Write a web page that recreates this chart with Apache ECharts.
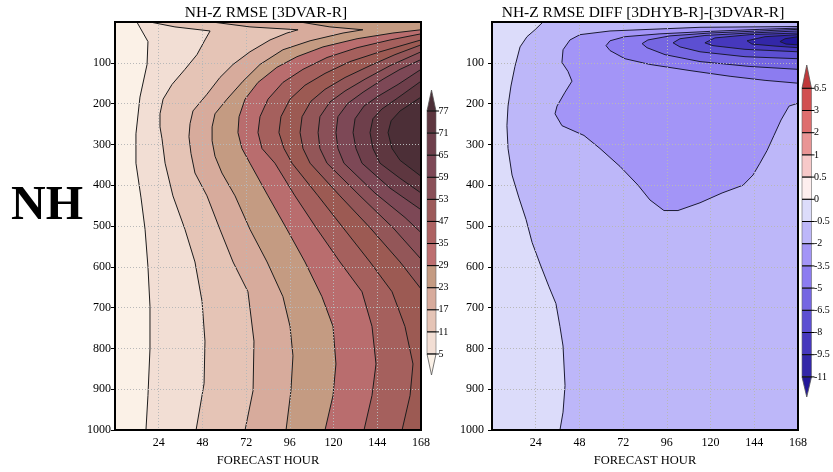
<!DOCTYPE html>
<html>
<head>
<meta charset="utf-8">
<script src="https://cdn.jsdelivr.net/npm/echarts/dist/echarts.min.js"></script>
<style>
  html, body { margin: 0; padding: 0; background: #fff; }
  #chart { width: 833px; height: 472px; }
</style>
</head>
<body>
<div id="chart"></div>
<script>
// Axis ticks
const hourTicks = [24, 48, 72, 96, 120, 144, 168];
const pressureTicks = [100, 200, 300, 400, 500, 600, 700, 800, 900, 1000];

// ---- NH-Z RMSE [3DVAR-R]: contour lines as [forecast hour, hPa] ----
const rmseLevels = [5, 11, 17, 23, 29, 35, 41, 47, 53, 59, 65, 71, 77];
const rmse05 = [[12,0],[18.1,48],[17.6,104],[13.7,184],[11.5,274],[11.5,346],[14.3,431],[16.5,508],[18.1,600],[19.2,697],[19.2,801],[18.1,915],[17.0,1000]];
const rmse11 = [[19.2,0],[32.9,12],[52.2,22],[49.4,44],[45.0,80],[38.4,116],[31.3,153],[26.4,189],[24.7,225],[24.7,257],[25.8,286],[27.5,346],[31.8,426],[38.4,508],[43.9,588],[47.8,685],[49.4,782],[48.9,886],[44.5,1000]];
const rmse17 = [[53.3,0],[74.1,12],[100.5,19],[94.4,27],[85.1,44],[74.1,73],[64.8,104],[57.6,136],[50.5,177],[42.8,218],[41.2,249],[40.6,281],[41.7,322],[43.9,370],[50.5,426],[57.6,508],[64.8,588],[73.0,661],[76.3,782],[75.8,903],[71.4,1000]];
const rmse23 = [[101.6,0],[118.0,12],[136.1,19],[125.2,27],[107.1,46],[92.2,68],[79.6,104],[70.3,145],[61.5,189],[54.9,225],[53.3,257],[53.3,291],[54.9,329],[58.7,370],[65.9,426],[74.1,508],[83.5,588],[92.2,673],[96.1,746],[97.7,818],[96.6,903],[93.9,1000]];
const rmse29 = [[168,19],[152.6,27],[132.9,41],[114.2,61],[99.9,85],[88.9,111],[78.5,148],[71.4,189],[68.1,232],[67.5,271],[69.7,310],[74.1,346],[84.0,426],[94.4,508],[104.3,588],[113.6,673],[119.7,746],[121.3,838],[119.7,915],[115.3,1000]];
const rmse35 = [[168,29],[151,44],[132.9,63],[116.4,87],[103.2,116],[92.2,148],[84.0,189],[79.6,232],[78.5,271],[80.7,310],[87.8,346],[98.8,426],[110.4,504],[123.5,588],[135.6,661],[141.1,746],[143.3,838],[141.1,915],[136.7,1000]];
const rmse41 = [[168,44],[145.5,73],[129.0,97],[115.3,126],[104.3,155],[96.1,189],[91.1,232],[90.0,271],[92.8,310],[97.2,346],[111.5,426],[125.2,504],[140,588],[152.1,661],[159.2,746],[163.6,838],[162.0,915],[157.6,1000]];
const rmse47 = [[168,56],[153.7,80],[140,107],[126.3,136],[115.3,165],[107.6,194],[102.7,232],[101.6,271],[103.2,310],[107.1,346],[123.5,426],[140,504],[156.5,588],[168,654]];
const rmse53 = [[168,73],[151,107],[137.3,140],[126.3,169],[118,196],[112.5,232],[111.5,271],[112.5,310],[116.4,346],[134.5,426],[152.6,504],[168,581]];
const rmse59 = [[168,92],[156.5,116],[147.2,140],[136.2,172],[127.9,199],[122.4,232],[121.3,271],[122.4,310],[125.7,346],[142.7,419],[159.2,479],[168,516]];
const rmse65 = [[168,116],[155.4,153],[144.4,182],[136.7,206],[131.8,237],[130.7,271],[132.3,310],[135.6,346],[151,407],[168,460]];
const rmse71 = [[168,145],[154.3,189],[146.6,213],[141.6,237],[140,271],[141.6,310],[145.5,346],[156.5,383],[168,419]];
const rmse77 = [[168,184],[156.5,218],[151.6,242],[149.9,271],[152.1,310],[156.5,339],[168,378]];
const rmseContours = [rmse05, rmse11, rmse17, rmse23, rmse29, rmse35, rmse41, rmse47, rmse53, rmse59, rmse65, rmse71, rmse77];
// band colours, lowest band first
const rmseFills = ['#fbf1e7','#f2ded4','#e5c4b6','#d7ab9c','#c49b82','#b96d6e','#a5605d','#9c5a53','#935658','#8a5058','#7d4856','#6e3f4b','#5e3740','#4c2f37'];
const rmseBarLabels = ['77','71','65','59','53','47','35','29','23','17','11','5'];
const rmseBarColors = ['#4c2f37','#5e3740','#6e3f4b','#7d4856','#8a5058','#9c5a5a','#ad6262','#bd6f70','#c49b82','#d7ab9c','#e5c4b6','#f2ded4','#fbf1e7'];

// ---- NH-Z RMSE DIFF [3DHYB-R]-[3DVAR-R]: contour lines as [forecast hour, hPa] ----
const diffLevels = [-0.5, -2, -3.5, -5, -6.5, -8, -9.5, -11];
const diffM05 = [[28.0,0],[23.6,19],[19.2,36],[15.4,61],[12.6,109],[10.4,157],[8.8,206],[8.2,254],[8.8,310],[11.0,375],[14.8,431],[18.7,484],[22.0,540],[26.4,593],[31.3,649],[35.1,690],[37.3,746],[39.0,794],[40.1,891],[39.0,956],[37.3,1000]];
const diffM20 = [[168,11],[114.2,13],[64.8,22],[48.3,31],[42.8,44],[39.0,68],[38.4,99],[41.7,121],[43.9,145],[40.1,172],[35.7,206],[34.6,225],[38.4,254],[50.5,278],[59.3,310],[70.3,354],[80.2,400],[86.7,436],[94.4,462],[102.1,462],[114.2,443],[126.3,419],[137.8,400],[143.3,375],[147.1,346],[151.0,315],[154.8,278],[158.7,240],[163.1,206],[168,199]];
const diffM35 = [[168,15],[147.1,18],[119.7,23],[92.2,29],[73.0,36],[64.8,46],[62.6,58],[64.8,70],[73.0,90],[86.7,104],[108.7,119],[130.7,133],[149.9,143],[168,150]];
const diffM50 = [[168,18],[147.1,22],[119.7,27],[97.7,34],[85.6,44],[82.4,53],[85.1,63],[95,80],[114.2,97],[141.6,109],[168,116]];
const diffM65 = [[168,22],[141.6,27],[116.9,33],[103.2,41],[99.4,51],[103.2,61],[114.2,73],[138.9,85],[168,90]];
const diffM80 = [[168,27],[141.6,31],[122.4,39],[116.9,51],[121.3,58],[138.9,67],[168,73]];
const diffM95 = [[168,31],[149.9,36],[140,46],[142.7,54],[155.4,59],[168,63]];
const diffM110 = [[168,36],[160.9,41],[158.1,48],[161.4,54],[168,56]];
const diffContours = [diffM05, diffM20, diffM35, diffM50, diffM65, diffM80, diffM95, diffM110];
const diffFills = ['#dcdcfa','#bdb7f9','#a395f7','#8c7cf0','#7566e2','#5c4fd2','#4638bd','#3327a8','#221799'];
const diffBarLabels = ['6.5','3','2','1','0.5','0','-0.5','-2','-3.5','-5','-6.5','-8','-9.5','-11'];
const diffBarColors = ['#c0393b','#d14f50','#de6e6e','#e99595','#f7c9c9','#fdeeee','#dcdcfa','#bdb7f9','#a395f7','#8c7cf0','#7566e2','#5c4fd2','#4638bd','#3327a8','#221799'];

const SERIF = '"Liberation Serif", "DejaVu Serif", serif';

// Filled contours: item 0 paints the lowest band over the whole plot,
// item i paints the region beyond contour i-1 and strokes that contour.
function contourRenderer(contours, fills, lineColor) {
  return function (params, api) {
    const i = params.dataIndex;
    if (i === 0) {
      const tl = api.coord([0, 0]);
      const br = api.coord([168, 1000]);
      return { type: 'rect', shape: { x: tl[0], y: tl[1], width: br[0] - tl[0], height: br[1] - tl[1] },
               style: { fill: fills[0] } };
    }
    const line = contours[i - 1];
    const pts = line.map(p => api.coord(p));
    const poly = pts.slice();
    if (line[line.length - 1][1] >= 1000) poly.push(api.coord([168, 1000]));
    if (line[0][1] <= 0) poly.push(api.coord([168, 0]));
    return {
      type: 'group',
      children: [
        { type: 'polygon', shape: { points: poly }, style: { fill: fills[i] } },
        { type: 'polyline', shape: { points: pts }, style: { stroke: lineColor, lineWidth: 1, fill: null } }
      ]
    };
  };
}

// Colour bar with pointed ends and labels on the band boundaries
function colorBar(x, w, yTop, step, tipTop, tipBottom, labels, colors) {
  const els = [];
  const yBot = yTop + step * (labels.length - 1);
  els.push({ type: 'polygon', shape: { points: [[x, yTop], [x + w, yTop], [x + w / 2, tipTop]] },
             style: { fill: colors[0], stroke: '#555', lineWidth: 0.8 } });
  for (let i = 0; i < labels.length - 1; i++) {
    els.push({ type: 'rect', shape: { x: x, y: yTop + i * step, width: w, height: step },
               style: { fill: colors[i + 1], stroke: '#666', lineWidth: 0.6 } });
  }
  els.push({ type: 'polygon', shape: { points: [[x, yBot], [x + w, yBot], [x + w / 2, tipBottom]] },
             style: { fill: colors[colors.length - 1], stroke: '#555', lineWidth: 0.8 } });
  labels.forEach((t, j) => {
    const y = yTop + j * step;
    els.push({ type: 'line', shape: { x1: x, y1: y, x2: x + w + 3, y2: y }, style: { stroke: '#000', lineWidth: 1 } });
    els.push({ type: 'text', x: x + w + 2.5, y: y,
               style: { text: t, fill: '#000', font: '10px ' + SERIF, textAlign: 'left', textVerticalAlign: 'middle', align: 'left', verticalAlign: 'middle' } });
  });
  return els;
}

const gridDots = { color: '#b8b8b8', type: [1, 2], width: 1 };

function xAxisFor(g) {
  return {
    type: 'value', gridIndex: g, min: 0, max: 168, interval: 24, z: 4,
    axisLine: { show: false }, axisTick: { show: false },
    axisLabel: { customValues: hourTicks, formatter: v => String(v), margin: 7, color: '#000', fontFamily: SERIF, fontSize: 12 },
    splitLine: { show: true, lineStyle: gridDots },
    name: 'FORECAST HOUR', nameLocation: 'middle', nameGap: 21,
    nameTextStyle: { color: '#000', fontFamily: SERIF, fontSize: 12.5 }
  };
}
function yAxisFor(g, margin) {
  return {
    type: 'value', gridIndex: g, min: 0, max: 1000, interval: 100, inverse: true, z: 4,
    axisLine: { show: false },
    axisTick: { show: true, length: 4, customValues: pressureTicks, lineStyle: { color: '#000' } },
    axisLabel: { customValues: pressureTicks, formatter: v => String(v), margin: margin, color: '#000', fontFamily: SERIF, fontSize: 12 },
    splitLine: { show: true, lineStyle: gridDots }
  };
}

const chart = echarts.init(document.getElementById('chart'), null, { renderer: 'canvas' });
chart.setOption({
  animation: false,
  backgroundColor: '#fff',
  grid: [
    { left: 115, top: 22, width: 306, height: 413, show: true, borderColor: '#000', borderWidth: 2, backgroundColor: 'transparent', z: 5 },
    { left: 492, top: 22, width: 306, height: 413, show: true, borderColor: '#000', borderWidth: 2, backgroundColor: 'transparent', z: 5 }
  ],
  xAxis: [xAxisFor(0), xAxisFor(1)],
  yAxis: [yAxisFor(0, 4), yAxisFor(1, 8)],
  series: [
    { type: 'custom', name: 'RMSE', coordinateSystem: 'cartesian2d', xAxisIndex: 0, yAxisIndex: 0, clip: true, silent: true,
      renderItem: contourRenderer(rmseContours, rmseFills, '#1c1c1c'),
      data: rmseFills.map((c, i) => [i, i === 0 ? 0 : rmseLevels[i - 1]]) },
    { type: 'custom', name: 'DIFF', coordinateSystem: 'cartesian2d', xAxisIndex: 1, yAxisIndex: 1, clip: true, silent: true,
      renderItem: contourRenderer(diffContours, diffFills, '#1a1a33'),
      data: diffFills.map((c, i) => [i, i === 0 ? 0 : diffLevels[i - 1]]) }
  ],
  graphic: [].concat(
    [
      { type: 'text', x: 266, y: 13, style: { text: 'NH-Z RMSE [3DVAR-R]', fill: '#000', font: '15.5px ' + SERIF, textAlign: 'center', textVerticalAlign: 'middle', align: 'center', verticalAlign: 'middle' } },
      { type: 'text', x: 643, y: 13, style: { text: 'NH-Z RMSE DIFF [3DHYB-R]-[3DVAR-R]', fill: '#000', font: '15.5px ' + SERIF, textAlign: 'center', textVerticalAlign: 'middle', align: 'center', verticalAlign: 'middle' } },
      { type: 'text', x: 47, y: 207, style: { text: 'NH', fill: '#000', font: 'bold 48px ' + SERIF, textAlign: 'center', textVerticalAlign: 'middle', align: 'center', verticalAlign: 'middle' } }
    ],
    colorBar(427, 9, 111, 22.09, 90, 375, rmseBarLabels, rmseBarColors),
    colorBar(802, 9.5, 88.3, 22.2, 65, 397, diffBarLabels, diffBarColors)
  )
});
</script>
</body>
</html>
